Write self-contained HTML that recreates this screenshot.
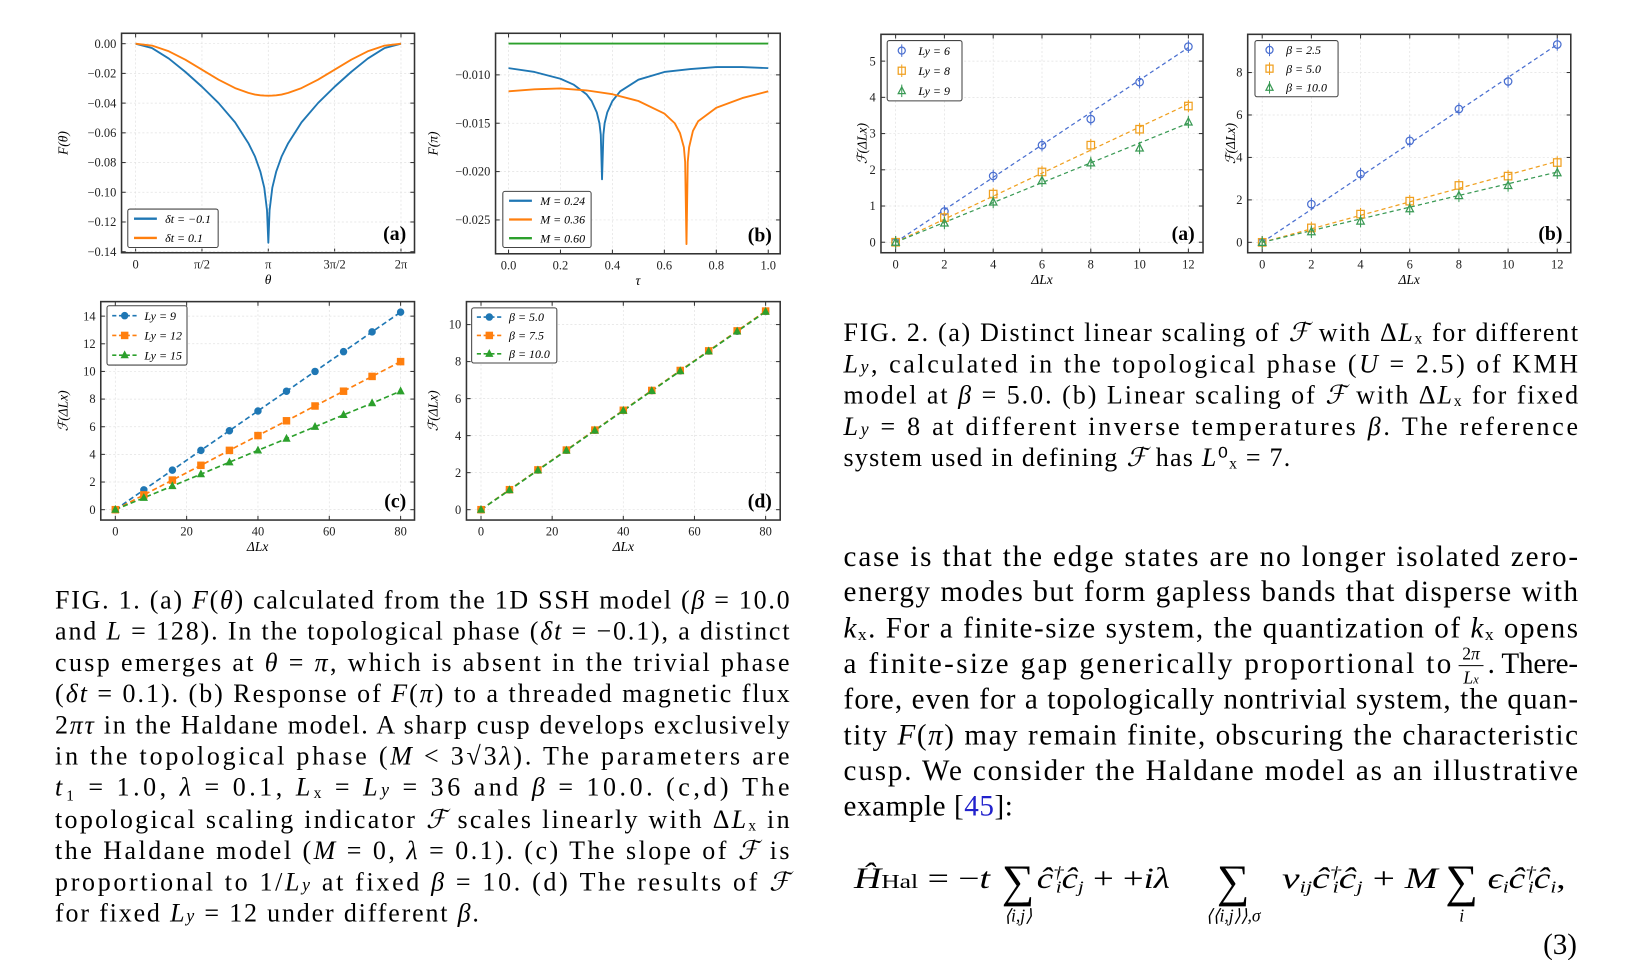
<!DOCTYPE html>
<html><head><meta charset="utf-8"><style>
html,body{margin:0;padding:0;background:#fff;}
svg{display:block;font-family:"Liberation Serif",serif;}
</style></head><body>
<svg id="root" width="1630" height="960" viewBox="0 0 1569 923" preserveAspectRatio="none" xmlns="http://www.w3.org/2000/svg">
<g id="charts"></g>
<g id="text" font-family="Liberation Serif, serif" fill="#000">
 <g font-size="25">
  <text x="53" y="585" textLength="707" lengthAdjust="spacing">FIG. 1. (a) <tspan font-style="italic">F</tspan>(<tspan font-style="italic">θ</tspan>) calculated from the 1D SSH model (<tspan font-style="italic">β</tspan> = 10.0</text>
  <text x="53" y="615" textLength="707" lengthAdjust="spacing">and <tspan font-style="italic">L</tspan> = 128). In the topological phase (<tspan font-style="italic">δt</tspan> = −0.1), a distinct</text>
  <text x="53" y="645" textLength="707" lengthAdjust="spacing">cusp emerges at <tspan font-style="italic">θ</tspan> = <tspan font-style="italic">π</tspan>, which is absent in the trivial phase</text>
  <text x="53" y="675" textLength="707" lengthAdjust="spacing">(<tspan font-style="italic">δt</tspan> = 0.1). (b) Response of <tspan font-style="italic">F</tspan>(<tspan font-style="italic">π</tspan>) to a threaded magnetic flux</text>
  <text x="53" y="705" textLength="707" lengthAdjust="spacing">2<tspan font-style="italic">πτ</tspan> in the Haldane model. A sharp cusp develops exclusively</text>
  <text x="53" y="735" textLength="707" lengthAdjust="spacing">in the topological phase (<tspan font-style="italic">M</tspan> &lt; 3√3<tspan font-style="italic">λ</tspan>). The parameters are</text>
  <text x="53" y="765" textLength="707" lengthAdjust="spacing"><tspan font-style="italic">t</tspan>₁ = 1.0, <tspan font-style="italic">λ</tspan> = 0.1, <tspan font-style="italic">L</tspan>ₓ = <tspan font-style="italic">L</tspan><tspan font-style="italic" font-size="17">y</tspan> = 36 and <tspan font-style="italic">β</tspan> = 10.0. (c,d) The</text>
  <text x="53" y="796" textLength="707" lengthAdjust="spacing">topological scaling indicator <tspan font-style="italic">ℱ</tspan> scales linearly with Δ<tspan font-style="italic">L</tspan>ₓ in</text>
  <text x="53" y="826" textLength="707" lengthAdjust="spacing">the Haldane model (<tspan font-style="italic">M</tspan> = 0, <tspan font-style="italic">λ</tspan> = 0.1). (c) The slope of <tspan font-style="italic">ℱ</tspan> is</text>
  <text x="53" y="856" textLength="707" lengthAdjust="spacing">proportional to 1/<tspan font-style="italic">L</tspan><tspan font-style="italic" font-size="17">y</tspan> at fixed <tspan font-style="italic">β</tspan> = 10. (d) The results of <tspan font-style="italic">ℱ</tspan></text>
  <text x="53" y="886" textLength="408" lengthAdjust="spacing">for fixed <tspan font-style="italic">L</tspan><tspan font-style="italic" font-size="17">y</tspan> = 12 under different <tspan font-style="italic">β</tspan>.</text>
 </g>
 <g font-size="25">
  <text x="812" y="328" textLength="707" lengthAdjust="spacing">FIG. 2. (a) Distinct linear scaling of <tspan font-style="italic">ℱ</tspan> with Δ<tspan font-style="italic">L</tspan>ₓ for different</text>
  <text x="812" y="358" textLength="707" lengthAdjust="spacing"><tspan font-style="italic">L</tspan><tspan font-style="italic" font-size="17">y</tspan>, calculated in the topological phase (<tspan font-style="italic">U</tspan> = 2.5) of KMH</text>
  <text x="812" y="388" textLength="707" lengthAdjust="spacing">model at <tspan font-style="italic">β</tspan> = 5.0. (b) Linear scaling of <tspan font-style="italic">ℱ</tspan> with Δ<tspan font-style="italic">L</tspan>ₓ for fixed</text>
  <text x="812" y="418" textLength="707" lengthAdjust="spacing"><tspan font-style="italic">L</tspan><tspan font-style="italic" font-size="17">y</tspan> = 8 at different inverse temperatures <tspan font-style="italic">β</tspan>. The reference</text>
  <text x="812" y="448" textLength="430" lengthAdjust="spacing">system used in defining <tspan font-style="italic">ℱ</tspan> has <tspan font-style="italic">L</tspan>⁰ₓ = 7.</text>
 </g>
 <g font-size="28">
  <text x="812" y="544" textLength="707" lengthAdjust="spacing">case is that the edge states are no longer isolated zero-</text>
  <text x="812" y="578" textLength="707" lengthAdjust="spacing">energy modes but form gapless bands that disperse with</text>
  <text x="812" y="613" textLength="707" lengthAdjust="spacing"><tspan font-style="italic">k</tspan>ₓ. For a finite-size system, the quantization of <tspan font-style="italic">k</tspan>ₓ opens</text>
  <text x="812" y="647" textLength="585" lengthAdjust="spacing">a finite-size gap generically proportional to</text>
  <text x="1416" y="634" font-size="17" text-anchor="middle">2<tspan font-style="italic">π</tspan></text>
  <line x1="1404" y1="640" x2="1428" y2="640" stroke="#000" stroke-width="1"/>
  <text x="1416" y="657" font-size="17" text-anchor="middle" font-style="italic">L<tspan font-size="12">x</tspan></text>
  <text x="1432" y="647" textLength="87" lengthAdjust="spacing">. There-</text>
  <text x="812" y="681" textLength="707" lengthAdjust="spacing">fore, even for a topologically nontrivial system, the quan-</text>
  <text x="812" y="716" textLength="707" lengthAdjust="spacing">tity <tspan font-style="italic">F</tspan>(<tspan font-style="italic">π</tspan>) may remain finite, obscuring the characteristic</text>
  <text x="812" y="750" textLength="707" lengthAdjust="spacing">cusp. We consider the Haldane model as an illustrative</text>
  <text x="812" y="784" textLength="163" lengthAdjust="spacing">example [<tspan fill="#2222cc">45</tspan>]:</text>
 </g>
 <g font-size="28">
  <text x="822" y="854" textLength="131" lengthAdjust="spacingAndGlyphs"><tspan font-style="italic">Ĥ</tspan><tspan font-size="19">Hal</tspan> = −<tspan font-style="italic">t</tspan></text>
  <text x="980" y="862" font-size="44" text-anchor="middle">∑</text>
  <text x="980" y="886" font-size="17" text-anchor="middle" font-style="italic">⟨i,j⟩</text>
  <text x="998" y="854" textLength="128" lengthAdjust="spacingAndGlyphs"><tspan font-style="italic">ĉ</tspan><tspan font-size="16" font-style="italic" dy="-10">†</tspan><tspan font-size="16" font-style="italic" dx="-6" dy="14">i</tspan><tspan font-style="italic" dy="-4">ĉ</tspan><tspan font-size="16" font-style="italic" dy="4">j</tspan><tspan dy="-4"> + +</tspan><tspan font-style="italic">iλ</tspan></text>
  <text x="1187" y="862" font-size="44" text-anchor="middle">∑</text>
  <text x="1187" y="886" font-size="17" text-anchor="middle" font-style="italic">⟨⟨i,j⟩⟩,σ</text>
  <text x="1234" y="854" textLength="150" lengthAdjust="spacingAndGlyphs"><tspan font-style="italic">ν</tspan><tspan font-size="16" font-style="italic" dy="4">ij</tspan><tspan font-style="italic" dy="-4">ĉ</tspan><tspan font-size="16" font-style="italic" dy="-10">†</tspan><tspan font-size="16" font-style="italic" dx="-6" dy="14">i</tspan><tspan font-style="italic" dy="-4">ĉ</tspan><tspan font-size="16" font-style="italic" dy="4">j</tspan><tspan dy="-4"> + </tspan><tspan font-style="italic">M</tspan></text>
  <text x="1407" y="862" font-size="44" text-anchor="middle">∑</text>
  <text x="1407" y="886" font-size="17" text-anchor="middle" font-style="italic">i</text>
  <text x="1432" y="854" textLength="75" lengthAdjust="spacingAndGlyphs"><tspan font-style="italic">ϵ</tspan><tspan font-size="16" font-style="italic" dy="4">i</tspan><tspan font-style="italic" dy="-4">ĉ</tspan><tspan font-size="16" font-style="italic" dy="-10">†</tspan><tspan font-size="16" font-style="italic" dx="-6" dy="14">i</tspan><tspan font-style="italic" dy="-4">ĉ</tspan><tspan font-size="16" font-style="italic" dy="4">i</tspan><tspan dy="-4">,</tspan></text>
  <text x="1518" y="917" text-anchor="end">(3)</text>
 </g>
</g>
</svg>
<script>
// ---------- DATA ----------
const aTheta = [0,0.125,0.25,0.375,0.5,0.625,0.75,0.85,0.9,0.94,0.97,0.99,1.0,1.01,1.03,1.06,1.1,1.15,1.25,1.375,1.5,1.625,1.75,1.875,2.0];
const aBlue = [0,-0.003,-0.010,-0.019,-0.029,-0.040,-0.053,-0.067,-0.076,-0.086,-0.097,-0.112,-0.134,-0.112,-0.097,-0.086,-0.076,-0.067,-0.053,-0.040,-0.029,-0.019,-0.010,-0.003,0];
const aOrange = [0,-0.0013,-0.0051,-0.0108,-0.0175,-0.0242,-0.0299,-0.0331,-0.0342,-0.0347,-0.0349,-0.035,-0.035,-0.035,-0.0349,-0.0347,-0.0342,-0.0331,-0.0299,-0.0242,-0.0175,-0.0108,-0.0051,-0.0013,0];
const bTauBlue = [0,0.1,0.2,0.25,0.3,0.32,0.34,0.35,0.355,0.36,0.365,0.37,0.38,0.40,0.43,0.5,0.6,0.7,0.8,0.9,1.0];
const bBlue = [-0.0093,-0.0097,-0.0104,-0.0110,-0.0120,-0.0127,-0.0139,-0.0150,-0.0162,-0.0208,-0.0162,-0.0150,-0.0139,-0.0127,-0.0117,-0.0105,-0.0097,-0.0094,-0.0092,-0.0092,-0.0093];
const bTauOrange = [0,0.1,0.2,0.3,0.4,0.5,0.6,0.64,0.66,0.675,0.68,0.685,0.69,0.695,0.71,0.73,0.8,0.9,1.0];
const bOrange = [-0.0117,-0.0115,-0.0114,-0.0116,-0.0120,-0.0127,-0.0140,-0.0150,-0.0160,-0.0175,-0.0190,-0.0275,-0.0190,-0.0175,-0.0158,-0.0148,-0.0134,-0.0124,-0.0117];
const bTauGreen = [0,1];
const bGreen = [-0.00677,-0.00677];
const cdX = [0,8,16,24,32,40,48,56,64,72,80];
const cLy9 = [0,1.43,2.86,4.29,5.71,7.14,8.57,10.0,11.43,12.86,14.29];
const cLy12 = [0,1.07,2.14,3.21,4.29,5.36,6.43,7.5,8.57,9.64,10.71];
const cLy15 = [0,0.86,1.71,2.57,3.43,4.29,5.14,6.0,6.86,7.71,8.57];
const dB5 = [0,1.07,2.14,3.21,4.29,5.36,6.43,7.5,8.57,9.64,10.71];
const dB75 = [0,1.08,2.15,3.22,4.30,5.37,6.44,7.52,8.58,9.66,10.73];
const dB10 = [0,1.06,2.13,3.20,4.28,5.35,6.42,7.49,8.56,9.63,10.70];
const f2X = [0,2,4,6,8,10,12];
const f2aLy6 = [0,0.85,1.83,2.68,3.40,4.42,5.40];
const f2aLy8 = [0,0.68,1.33,1.94,2.68,3.12,3.76];
const f2aLy9 = [0,0.53,1.11,1.70,2.19,2.60,3.32];
const f2aSlopes = [0.448,0.318,0.274];
const f2bB25 = [0,1.80,3.22,4.78,6.28,7.58,9.32];
const f2bB5 = [0,0.68,1.33,1.94,2.68,3.12,3.76];
const f2bB10 = [0,0.50,1.00,1.58,2.20,2.68,3.28];
const f2bSlopes = [0.777,0.318,0.276];
const aXTicks = [0,0.5,1,1.5,2];
const aXTickLabels = ["0","π/2","π","3π/2","2π"];
const aYTicks = [0,-0.02,-0.04,-0.06,-0.08,-0.10,-0.12,-0.14];
const bXTicks = [0,0.2,0.4,0.6,0.8,1.0];
const bYTicks = [-0.010,-0.015,-0.020,-0.025];
const cXTicks = [0,20,40,60,80];
const cYTicks = [0,2,4,6,8,10,12,14];
const dYTicks = [0,2,4,6,8,10];
const f2XTicks = [0,2,4,6,8,10,12];
const f2aYTicks = [0,1,2,3,4,5];
const f2bYTicks = [0,2,4,6,8];

// ---------- DRAWING ----------
const NS="http://www.w3.org/2000/svg";
const root=document.getElementById('charts');
function mk(tag,attrs,parent){const e=document.createElementNS(NS,tag);for(const k in attrs)e.setAttribute(k,attrs[k]);(parent||root).appendChild(e);return e;}
const C1={blue:"#1f77b4",orange:"#ff7f0e",green:"#2ca02c"};
const C2={blue:"#4a6fd0",orange:"#f0a020",green:"#3a9a55"};

function panel(name,fx0,fx1,fy0,fy1,xd0,xd1,yd0,yd1){
  const g=mk('g',{});
  
  
  const sx=v=>fx0+(v-xd0)/(xd1-xd0)*(fx1-fx0);
  const sy=v=>fy1-(v-yd0)/(yd1-yd0)*(fy1-fy0);
  return {g,sx,sy,fx0,fx1,fy0,fy1};
}
function axes(P,xt,xl,yt,fmtY,fmtX){
  const g=mk('g',{},P.g);
  
  
  xt.forEach((v,i)=>{const x=P.sx(v);
    mk('line',{x1:x,x2:x,y1:P.fy0,y2:P.fy1,stroke:"#e2e2e2","stroke-width":0.7,"stroke-dasharray":"2,2"},g);
    mk('line',{x1:x,x2:x,y1:P.fy1,y2:P.fy1-4,stroke:"#333","stroke-width":1},g);
    mk('line',{x1:x,x2:x,y1:P.fy0,y2:P.fy0+4,stroke:"#333","stroke-width":1},g);
    const t=mk('text',{x:x,y:P.fy1+15,"font-size":12,"text-anchor":"middle",fill:"#222"},g);
    
    
    t.textContent=xl?xl[i]:(fmtX?fmtX(v):String(v));});
  yt.forEach(v=>{const y=P.sy(v);
    mk('line',{x1:P.fx0,x2:P.fx1,y1:y,y2:y,stroke:"#e2e2e2","stroke-width":0.7,"stroke-dasharray":"2,2"},g);
    mk('line',{x1:P.fx0,x2:P.fx0+4,y1:y,y2:y,stroke:"#333","stroke-width":1},g);
    mk('line',{x1:P.fx1,x2:P.fx1-4,y1:y,y2:y,stroke:"#333","stroke-width":1},g);
    const t=mk('text',{x:P.fx0-5,y:y+4,"font-size":12,"text-anchor":"end",fill:"#222"},g);
    
    
    t.textContent=fmtY(v);});
  const fr=mk('rect',{x:P.fx0,y:P.fy0,width:P.fx1-P.fx0,height:P.fy1-P.fy0,fill:"none",stroke:"#333","stroke-width":1.5},g);
  
  
}
function labels(P,xlab,ylab,ylx,tag){
  const cx=(P.fx0+P.fx1)/2;
  const xl=mk('text',{x:cx,y:P.fy1+30,"font-size":13,"text-anchor":"middle","font-style":"italic"},P.g);
  
  
  xl.textContent=xlab;
  const cy=(P.fy0+P.fy1)/2;
  const yl=mk('text',{x:ylx,y:cy,"font-size":13,"text-anchor":"middle","font-style":"italic",transform:`rotate(-90 ${ylx} ${cy})`},P.g);
  
  
  yl.textContent=ylab;
  const pl=mk('text',{x:P.fx1-8,y:P.fy1-12,"font-size":19,"font-weight":"bold","text-anchor":"end"},P.g);
  
  
  pl.textContent=tag;
}
function line(P,xs,ys,color,name,dash,w){
  const d=xs.map((x,i)=>(i?'L':'M')+P.sx(x).toFixed(1)+','+P.sy(ys[i]).toFixed(1)).join('');
  const p=mk('path',{d:d,fill:"none",stroke:color,"stroke-width":w||1.8,"stroke-dasharray":dash||"none","stroke-linejoin":"round"},P.g);
  
  
}
function marker(g,shape,x,y,color,filled,r){
  const f=filled?color:"none";
  let m;
  if(shape==='o') m=mk('circle',{cx:x,cy:y,r:r,fill:f,stroke:color,"stroke-width":1.2},g);
  else if(shape==='s') m=mk('rect',{x:x-r,y:y-r,width:2*r,height:2*r,fill:f,stroke:color,"stroke-width":1.2},g);
  else m=mk('path',{d:`M${x},${y-r*1.1}L${x+r},${y+r*0.8}L${x-r},${y+r*0.8}Z`,fill:f,stroke:color,"stroke-width":1.2},g);
  return m;
}
function points(P,xs,ys,color,shape,filled,name,err){
  const g=mk('g',{},P.g);
  
  
  xs.forEach((x,i)=>{const px=P.sx(x),py=P.sy(ys[i]);
    if(err){mk('line',{x1:px,x2:px,y1:py-6,y2:py+6,stroke:color,"stroke-width":1},g);}
    const m=marker(g,shape,px,py,color,filled,filled?3:3.6);
    
    });
}
function legend(P,x,y,w,h,items){
  const g=mk('g',{},P.g);
  
  
  mk('rect',{x:x,y:y,width:w,height:h,fill:"#fff",stroke:"#444","stroke-width":1,rx:2},g);
  const step=h/items.length;
  items.forEach((it,i)=>{const yy=y+step*(i+0.5);
    const e=mk('g',{},g);
    
    
    if(it.kind==='line') mk('line',{x1:x+6,x2:x+28,y1:yy,y2:yy,stroke:it.c,"stroke-width":2.2},e);
    else if(it.kind==='dash'){mk('line',{x1:x+5,x2:x+30,y1:yy,y2:yy,stroke:it.c,"stroke-width":1.6,"stroke-dasharray":"4,2.5"},e);marker(e,it.s,x+17,yy,it.c,true,3);}
    else {mk('line',{x1:x+14,x2:x+14,y1:yy-6,y2:yy+6,stroke:it.c,"stroke-width":1},e);marker(e,it.s,x+14,yy,it.c,false,3.4);}
    const t=mk('text',{x:x+(it.kind==='err'?30:36),y:yy+4,"font-size":11.5,"font-style":"italic"},e);
    t.textContent=it.t;});
}
const fmt2=v=>(v<0?'−':'')+Math.abs(v).toFixed(2);
const fmt3=v=>(v<0?'−':'')+Math.abs(v).toFixed(3);
const fmt1=v=>(v<0?'−':'')+Math.abs(v).toFixed(1);
const fmtI=v=>String(v);

// Panel 1a
let P=panel('fig1a-chart',117,399,32,243,-0.106,2.102,-0.1407,0.0070);
axes(P,aXTicks,aXTickLabels,aYTicks,fmt2);
line(P,aTheta,aBlue,C1.blue,'series-dt-neg0.1');
line(P,aTheta,aOrange,C1.orange,'series-dt-0.1');
legend(P,123,201,87,37,[{kind:'line',c:C1.blue,t:'δt = −0.1'},{kind:'line',c:C1.orange,t:'δt = 0.1'}]);
labels(P,'θ','F(θ)',65,'(a)');

// Panel 1b
P=panel('fig1b-chart',477,751,32,244,-0.05,1.046,-0.0285,-0.0057);
axes(P,bXTicks,null,bYTicks,fmt3,fmt1);
line(P,bTauBlue,bBlue,C1.blue,'series-M0.24');
line(P,bTauOrange,bOrange,C1.orange,'series-M0.36');
line(P,bTauGreen,bGreen,C1.green,'series-M0.60');
legend(P,484,184,85,54,[{kind:'line',c:C1.blue,t:'M = 0.24'},{kind:'line',c:C1.orange,t:'M = 0.36'},{kind:'line',c:C1.green,t:'M = 0.60'}]);
labels(P,'τ','F(π)',421,'(b)');

// Panel 1c
P=panel('fig1c-chart',97,399,290,500,-4.08,83.9,-0.75,15.05);
axes(P,cXTicks,null,cYTicks,fmtI);
line(P,cdX,cLy9,C1.blue,'series-Ly9-line','5,3',1.6);
line(P,cdX,cLy12,C1.orange,'series-Ly12-line','5,3',1.6);
line(P,cdX,cLy15,C1.green,'series-Ly15-line','5,3',1.6);
points(P,cdX,cLy9,C1.blue,'o',true,'series-Ly9-points');
points(P,cdX,cLy12,C1.orange,'s',true,'series-Ly12-points');
points(P,cdX,cLy15,C1.green,'t',true,'series-Ly15-points');
legend(P,103,294,77,57,[{kind:'dash',s:'o',c:C1.blue,t:'Ly = 9'},{kind:'dash',s:'s',c:C1.orange,t:'Ly = 12'},{kind:'dash',s:'t',c:C1.green,t:'Ly = 15'}]);
labels(P,'ΔLx','ℱ(ΔLx)',65,'(c)');

// Panel 1d
P=panel('fig1d-chart',449,751,290,500,-4.09,84.1,-0.56,11.24);
axes(P,cXTicks,null,dYTicks,fmtI);
line(P,cdX,dB5,C1.blue,'series-beta5-line','5,3',1.6);
line(P,cdX,dB75,C1.orange,'series-beta7.5-line','5,3',1.6);
line(P,cdX,dB10,C1.green,'series-beta10-line','5,3',1.6);
points(P,cdX,dB5,C1.blue,'o',true,'series-beta5-points');
points(P,cdX,dB75,C1.orange,'s',true,'series-beta7.5-points');
points(P,cdX,dB10,C1.green,'t',true,'series-beta10-points');
legend(P,454,296,82,53,[{kind:'dash',s:'o',c:C1.blue,t:'β = 5.0'},{kind:'dash',s:'s',c:C1.orange,t:'β = 7.5'},{kind:'dash',s:'t',c:C1.green,t:'β = 10.0'}]);
labels(P,'ΔLx','ℱ(ΔLx)',421,'(d)');

// Fig 2a
P=panel('fig2a-chart',848,1158,33,243,-0.6,12.6,-0.29,5.74);
axes(P,f2XTicks,null,f2aYTicks,fmtI);
f2aSlopes.forEach((s,i)=>{line(P,[0,12],[0,s*12],[C2.blue,C2.orange,C2.green][i],'fit-line','4,3',1.2);});
points(P,f2X,f2aLy6,C2.blue,'o',false,'series-Ly6',true);
points(P,f2X,f2aLy8,C2.orange,'s',false,'series-Ly8',true);
points(P,f2X,f2aLy9,C2.green,'t',false,'series-Ly9',true);
legend(P,854,39,72,58,[{kind:'err',s:'o',c:C2.blue,t:'Ly = 6'},{kind:'err',s:'s',c:C2.orange,t:'Ly = 8'},{kind:'err',s:'t',c:C2.green,t:'Ly = 9'}]);
labels(P,'ΔLx','ℱ(ΔLx)',834,'(a)');

// Fig 2b
P=panel('fig2b-chart',1201,1512,33,243,-0.59,12.55,-0.49,9.8);
axes(P,f2XTicks,null,f2bYTicks,fmtI);
f2bSlopes.forEach((s,i)=>{line(P,[0,12],[0,s*12],[C2.blue,C2.orange,C2.green][i],'fit-line','4,3',1.2);});
points(P,f2X,f2bB25,C2.blue,'o',false,'series-beta2.5',true);
points(P,f2X,f2bB5,C2.orange,'s',false,'series-beta5.0',true);
points(P,f2X,f2bB10,C2.green,'t',false,'series-beta10.0',true);
legend(P,1208,39,80,54,[{kind:'err',s:'o',c:C2.blue,t:'β = 2.5'},{kind:'err',s:'s',c:C2.orange,t:'β = 5.0'},{kind:'err',s:'t',c:C2.green,t:'β = 10.0'}]);
labels(P,'ΔLx','ℱ(ΔLx)',1189,'(b)');
</script>
</body></html>
